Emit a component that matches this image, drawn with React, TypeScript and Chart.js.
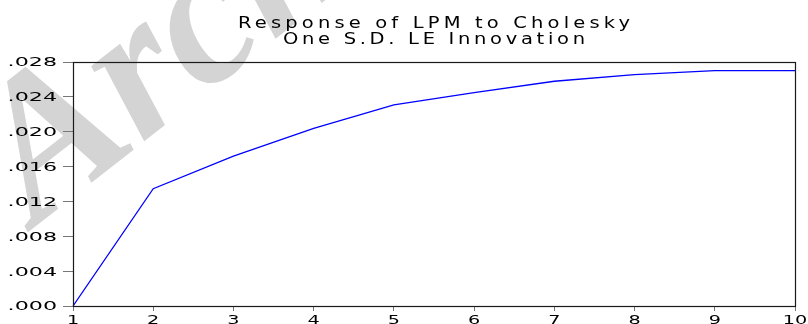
import React, { useEffect, useRef } from 'react';
import { Chart, registerables } from 'chart.js';

Chart.register(...registerables);

// ---- data ----
const periods: string[] = ['1', '2', '3', '4', '5', '6', '7', '8', '9', '10'];
const responseLPM: number[] = [0, 0.01346, 0.01721, 0.02039, 0.02307, 0.02448, 0.02579, 0.02654, 0.027, 0.027];
const yMin = 0;
const yMax = 0.028;
const yStep = 0.004;
const titleLines: string[] = ['Response of LPM to Cholesky', 'One S.D. LE Innovation'];
const watermarkText = 'Archive of SID';

const FONT = '"DejaVu Sans", Verdana, sans-serif';

function fmtY(v: number): string {
  return v.toFixed(3).replace(/^0/, '');
}

function drawStretched(ctx: CanvasRenderingContext2D, text: string, x: number, y: number, align: CanvasTextAlign, sx: number) {
  ctx.save();
  ctx.translate(x, y);
  ctx.scale(sx, 1);
  ctx.textAlign = align;
  ctx.textBaseline = 'alphabetic';
  ctx.fillText(text, 0, 0);
  ctx.restore();
}

const decorPlugin = {
  id: 'decor',
  beforeDraw(chart: any) {
    const ctx: CanvasRenderingContext2D = chart.ctx;
    // watermark
    ctx.save();
    ctx.fillStyle = '#d4d4d4';
    ctx.font = 'bold italic 200px "Liberation Serif", "DejaVu Serif", serif';
    ctx.translate(36, 226);
    ctx.rotate((-38 * Math.PI) / 180);
    ctx.textAlign = 'left';
    ctx.textBaseline = 'alphabetic';
    ctx.fillText(watermarkText, 0, 0);
    ctx.restore();
  },
  afterDraw(chart: any) {
    const ctx: CanvasRenderingContext2D = chart.ctx;
    const area = chart.chartArea;
    // frame
    ctx.save();
    ctx.strokeStyle = '#1a1a1a';
    ctx.lineWidth = 1.2;
    const l = Math.round(area.left) + 0.5;
    const t = Math.round(area.top) + 0.5;
    const r = Math.round(area.right) + 0.5;
    const b = Math.round(area.bottom) + 0.5;
    ctx.strokeRect(l, t, r - l, b - t);
    ctx.restore();

    // tick labels
    ctx.save();
    ctx.fillStyle = '#000';
    ctx.font = '12px ' + FONT;
    const yScale = chart.scales.y;
    yScale.ticks.forEach((tk: any, i: number) => {
      const py = yScale.getPixelForTick(i);
      drawStretched(ctx, fmtY(tk.value), area.left - 16, py + 4.4, 'right', 1.85);
    });
    const xScale = chart.scales.x;
    xScale.ticks.forEach((tk: any, i: number) => {
      const px = xScale.getPixelForTick(i);
      drawStretched(ctx, String(periods[i]), px, area.bottom + 17.5, 'center', 1.6);
    });
    ctx.restore();

    // title
    ctx.save();
    ctx.fillStyle = '#000';
    ctx.font = '15px ' + FONT;
    const cx = (area.left + area.right) / 2;
    const targets = [392, 302];
    const baselines = [27.5, 43.5];
    const sx = 1.3;
    titleLines.forEach((line, i) => {
      (ctx as any).letterSpacing = '0px';
      const w = ctx.measureText(line).width;
      const ls = (targets[i] / sx - w) / (line.length - 1);
      (ctx as any).letterSpacing = ls + 'px';
      ctx.save();
      ctx.translate(cx - targets[i] / 2, baselines[i]);
      ctx.scale(sx, 1);
      ctx.textAlign = 'left';
      ctx.textBaseline = 'alphabetic';
      ctx.fillText(line, 0, 0);
      ctx.restore();
    });
    (ctx as any).letterSpacing = '0px';
    ctx.restore();
  },
};

export default function App() {
  const ref = useRef<HTMLCanvasElement | null>(null);
  useEffect(() => {
    if (!ref.current) return;
    const chart = new Chart(ref.current, {
      type: 'line',
      data: {
        labels: periods,
        datasets: [
          {
            data: responseLPM,
            borderColor: '#0000ff',
            borderWidth: 1.3,
            pointRadius: 0,
            tension: 0,
            fill: false,
          },
        ],
      },
      options: {
        responsive: false,
        animation: false,
        events: [],
        layout: { padding: { top: 62, right: 13, left: 0, bottom: 0 } },
        plugins: {
          legend: { display: false },
          title: { display: false },
          tooltip: { enabled: false },
        },
        scales: {
          x: {
            type: 'category',
            offset: false,
            grid: { display: true, drawOnChartArea: false, drawTicks: true, tickLength: 5, color: '#777', offset: false },
            border: { display: false },
            ticks: { display: false, autoSkip: false },
            afterFit(scale: any) {
              scale.height = 18;
              scale.paddingLeft = 0;
              scale.paddingRight = 0;
            },
          },
          y: {
            type: 'linear',
            min: yMin,
            max: yMax,
            grid: { display: true, drawOnChartArea: false, drawTicks: true, tickLength: 10, color: '#777' },
            border: { display: false },
            ticks: { display: false, stepSize: yStep },
            afterFit(scale: any) {
              scale.width = 73;
              scale.paddingTop = 0;
              scale.paddingBottom = 0;
            },
          },
        },
      },
      plugins: [decorPlugin],
    });
    return () => chart.destroy();
  }, []);
  return (
    <div style={{ position: 'absolute', left: 0, top: 0, width: 808, height: 324, background: '#fff' }}>
      <canvas ref={ref} width={808} height={324} style={{ display: 'block' }} />
    </div>
  );
}
